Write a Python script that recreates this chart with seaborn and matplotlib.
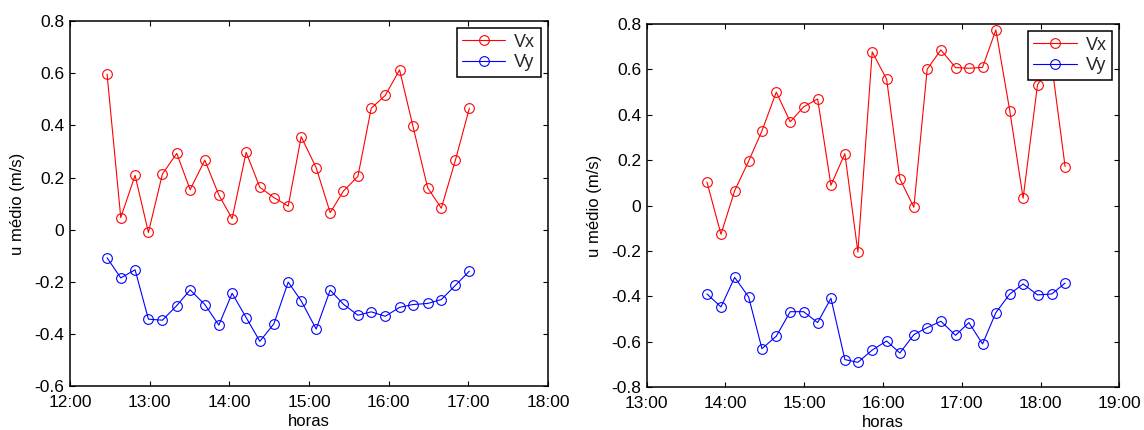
import matplotlib
matplotlib.use("Agg")
import matplotlib.pyplot as plt
from matplotlib.ticker import FuncFormatter, MultipleLocator
import seaborn as sns
import pandas as pd

# ---- data (hours as decimal) ----
t_left = [12.465, 12.637, 12.817, 12.984, 13.160, 13.340, 13.508, 13.692, 13.868,
          14.035, 14.211, 14.383, 14.559, 14.739, 14.902, 15.090, 15.266, 15.433,
          15.614, 15.781, 15.957, 16.137, 16.305, 16.489, 16.661, 16.837, 17.013]
vx_left = [0.597, 0.047, 0.209, -0.010, 0.214, 0.293, 0.154, 0.267, 0.134,
           0.043, 0.297, 0.163, 0.124, 0.091, 0.357, 0.238, 0.066, 0.149,
           0.205, 0.466, 0.515, 0.613, 0.397, 0.162, 0.083, 0.266, 0.466]
vy_left = [-0.107, -0.184, -0.153, -0.342, -0.346, -0.290, -0.230, -0.286, -0.365,
           -0.243, -0.336, -0.427, -0.360, -0.200, -0.272, -0.380, -0.231, -0.285,
           -0.327, -0.314, -0.331, -0.297, -0.286, -0.282, -0.267, -0.213, -0.158]

t_right = [13.765, 13.943, 14.117, 14.294, 14.463, 14.645, 14.822, 14.992, 15.170,
           15.339, 15.516, 15.681, 15.863, 16.046, 16.214, 16.392, 16.561, 16.735,
           16.921, 17.090, 17.264, 17.433, 17.610, 17.779, 17.962, 18.143, 18.312]
vx_right = [0.104, -0.126, 0.066, 0.196, 0.329, 0.500, 0.369, 0.435, 0.470,
            0.090, 0.229, -0.204, 0.677, 0.557, 0.118, -0.007, 0.601, 0.686,
            0.608, 0.605, 0.609, 0.774, 0.417, 0.033, 0.533, 0.620, 0.172]
vy_right = [-0.389, -0.446, -0.316, -0.402, -0.630, -0.575, -0.467, -0.467, -0.515,
            -0.408, -0.678, -0.690, -0.636, -0.596, -0.649, -0.568, -0.537, -0.509,
            -0.571, -0.515, -0.609, -0.471, -0.389, -0.345, -0.393, -0.389, -0.341]

series_names = ["Vx", "Vy"]
series_colors = ["#ff0000", "#0000ff"]
xlabel = "horas"
ylabel = "u médio (m/s)"

sns.set_theme(style="white")
plt.rcParams["font.family"] = ["Liberation Sans", "DejaVu Sans"]
plt.rcParams["axes.unicode_minus"] = False

fig = plt.figure(figsize=(11.44, 4.30), dpi=100)
axL = fig.add_axes([0.0612, 0.1012, 0.4178, 0.8498])
axR = fig.add_axes([0.5653, 0.0993, 0.4131, 0.8449])


def hfmt(v, pos):
    return f"{int(round(v)):d}:00"


def yfmt(v, pos):
    if abs(v) < 1e-9:
        return "0"
    return f"{v:.1f}"


def draw(ax, t, vx, vy, xlim, ylim):
    df = pd.DataFrame({"t": t, "Vx": vx, "Vy": vy})
    for name, col in zip(series_names, series_colors):
        sns.lineplot(data=df, x="t", y=name, ax=ax, color=col, label=name,
                     estimator=None, marker="o", markersize=7,
                     markerfacecolor="none", markeredgecolor=col,
                     markeredgewidth=0.8, linewidth=0.8)
    ax.set_xlim(*xlim)
    ax.set_ylim(*ylim)
    ax.xaxis.set_major_locator(MultipleLocator(1))
    ax.yaxis.set_major_locator(MultipleLocator(0.2))
    ax.xaxis.set_major_formatter(FuncFormatter(hfmt))
    ax.yaxis.set_major_formatter(FuncFormatter(yfmt))
    ax.tick_params(axis="both", which="major", direction="in", length=3.5,
                   width=0.8, color="black", labelsize=12.5, labelcolor="black",
                   top=True, right=True, bottom=True, left=True)
    ax.tick_params(axis="x", pad=6)
    ax.tick_params(axis="y", pad=4)
    for sp in ax.spines.values():
        sp.set_visible(True)
        sp.set_color("black")
        sp.set_linewidth(1.1)
    ax.set_xlabel(xlabel, fontsize=12, labelpad=3, color="black")
    ax.set_ylabel(ylabel, fontsize=12, labelpad=7, color="black")
    ax.grid(False)
    ax.set_facecolor("white")
    leg = ax.legend(loc="upper right", fontsize=13, frameon=True, fancybox=False,
                    framealpha=1, edgecolor="black", handlelength=2.4,
                    borderpad=0.3, labelspacing=0.2, handletextpad=0.5,
                    borderaxespad=0.4, markerscale=1.0)
    leg.get_frame().set_linewidth(1.1)


draw(axL, t_left, vx_left, vy_left, (12, 18), (-0.6, 0.8))
draw(axR, t_right, vx_right, vy_right, (13, 19), (-0.8, 0.8))

fig.savefig("out.png", dpi=100, facecolor="white")
